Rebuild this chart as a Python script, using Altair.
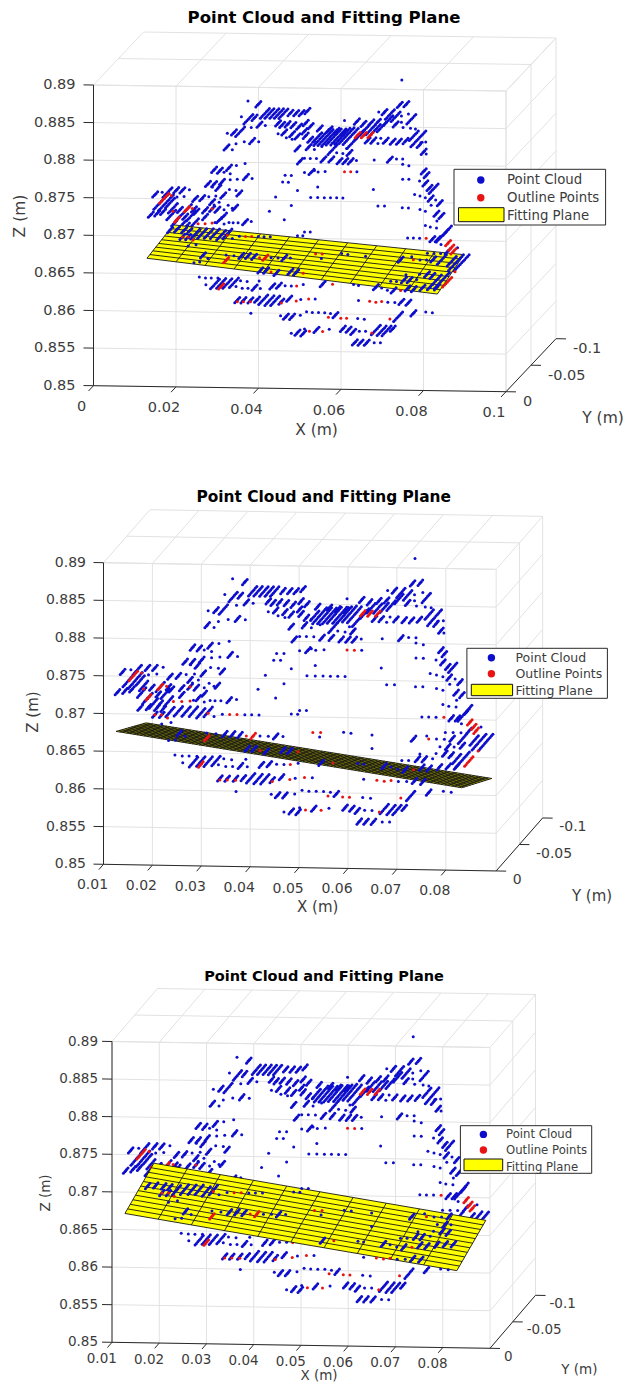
import altair as alt
import pandas as pd

alt.data_transformers.disable_max_rows()

# Point cloud, millimetres: (X, Z, streak size). A streak is a run of points along Y.
Y_SETS = {
    1: [-40],
    3: [-35, -38, -40, -42, -45],
    5: [-31, -34, -37, -40, -43, -46, -49],
    7: [-25, -28, -31, -34, -37, -40, -43, -46, -49, -52, -55],
}

cloud_upper_left = [
    (32.6,885.3,1),(35.1,884.9,3),(36.7,883.7,5),(37.8,883.7,5),(39.0,883.7,5),(40.1,883.7,5),(41.2,883.7,5),
    (42.9,883.8,3),(44.3,883.8,3),(45.6,883.8,3),(32.7,882.9,5),(34.2,883.1,3),(31.0,883.2,1),(35.4,882.2,3),
    (33.4,881.8,1),(36.8,882.1,1),(39.9,882.4,3),(40.9,882.2,3),(42.2,882.3,3),(43.6,882.2,3),(45.0,882.0,3),
    (39.9,881.0,1),(41.4,881.2,3),(43.3,881.0,3),(44.6,880.7,3),(43.3,880.3,1),(41.9,880.5,1),(27.6,881.0,1),
    (29.2,881.1,3),(30.7,881.2,5),(31.7,879.9,1),(33.6,880.0,3),(35.2,879.9,1),(29.7,879.6,1),(27.4,879.1,3),
    (28.8,878.8,1),(44.6,879.1,3),(45.2,877.4,3),(24.4,876.1,3),(25.8,876.0,3),(28.0,876.4,3),(29.8,876.7,1),
    (31.9,877.0,1),(28.3,875.6,1),(26.8,875.8,1),(28.3,874.8,1),(30.0,874.9,1),(32.1,875.2,3),(33.6,875.0,1),
    (41.6,875.5,1),(43.1,875.5,1),(41.0,874.6,1),(42.4,874.6,1),(44.6,873.5,1),(22.9,874.2,3),(24.4,874.2,3),
    (26.3,874.5,3),(24.0,873.8,1),(25.4,873.7,3),(28.1,873.5,1),(29.7,873.4,1),(30.5,873.0,3),(26.6,872.7,3),
    (39.3,872.6,1),(43.1,871.5,1),(37.8,870.7,1),(41.4,869.6,1),(10.1,872.7,3),(11.8,873.0,1),(13.1,873.0,5),
    (15.2,873.3,3),(16.7,873.3,3),(18.4,873.4,1),(11.6,871.8,7),(12.7,871.6,7),(13.7,871.6,5),(9.05,870.0,3),
    (10.6,870.2,3),(12.0,870.4,3),(15.4,872.4,1),(17.1,872.5,1),(19.8,872.2,3),(21.5,872.3,3),(23.1,872.5,1),
    (24.8,872.6,1),(23.9,871.8,3),(25.6,871.8,1),(14.4,870.9,5),(16.1,870.7,3),(17.8,870.8,5),(19.5,870.8,3),
    (22.2,870.7,3),(23.9,870.9,3),(25.2,870.8,3),(26.8,870.8,1),(27.8,871.4,1),(29.5,871.1,3),(28.8,871.0,1),
    (24.4,871.4,1),(14.0,870.0,5),(15.7,869.6,3),(17.4,869.8,3),(18.8,869.9,5),(20.1,870.5,3),(22.2,869.8,3),
    (26.8,870.0,3),(25.6,869.4,3),(24.6,869.1,1),(28.0,869.1,1),(29.0,869.1,1),(30.2,869.1,1),(31.9,869.2,3),
    (33.4,869.3,1),(26.8,868.9,1),
]

cloud_lower_left = [
    (13.7,868.0,3),(14.7,868.9,3),(16.4,868.6,5),(17.8,868.6,3),(19.5,868.9,5),(15.4,868.1,3),(17.1,868.0,3),
    (18.4,867.9,3),(19.8,867.5,5),(21.5,867.6,5),(23.1,867.6,5),(24.6,867.6,5),(26.1,867.4,5),(27.6,867.6,5),
    (16.7,867.1,3),(18.1,867.1,3),(20.0,866.1,1),(18.1,865.9,1),(28.8,867.0,1),(30.5,867.3,1),(35.1,867.3,1),
    (36.5,867.3,1),(38.0,867.3,1),(44.6,867.5,1),(45.9,867.5,1),(21.7,864.7,3),(22.9,864.3,1),(19.5,863.7,1),
    (20.9,863.8,1),(27.3,864.8,1),(29.2,864.7,1),(31.0,864.7,3),(32.6,864.7,3),(34.1,864.6,3),(38.2,864.5,1),
    (39.9,864.5,1),(41.4,864.5,3),(42.9,864.5,1),(35.6,862.8,3),(37.0,862.8,3),(39.5,862.5,3),(42.9,862.7,3),
    (44.3,862.6,3),(20.8,861.8,1),(22.3,861.7,1),(23.7,861.7,1),(25.3,861.7,1),(24.6,860.9,5),(26.1,861.0,5),
    (27.6,861.0,5),(29.2,861.1,5),(22.4,860.8,1),(30.8,861.4,1),(32.4,861.3,1),(35.3,861.4,1),(29.7,860.6,1),
    (31.2,860.4,1),(32.6,860.4,1),(34.2,860.5,3),(35.6,860.4,1),(38.5,860.7,3),(40.1,860.8,3),(41.6,860.8,1),
    (43.1,860.8,1),(46.0,861.0,1),(30.0,858.8,3),(31.5,858.8,3),(33.2,858.8,3),(34.8,858.9,3),(36.3,858.9,5),
    (37.8,858.8,5),(39.2,858.8,5),(40.7,858.7,3),(42.6,859.1,3),(45.4,859.0,1),(33.3,857.1,1),(40.5,856.8,1),
    (41.8,856.7,3),(43.3,856.7,3),(45.3,856.9,1),(43.1,854.5,1),(44.6,854.6,3),(46.0,854.5,3),
]

cloud_upper_right = [
    (69.9,888.4,1),(69.4,885.1,3),(71.0,885.2,3),(64.3,884.1,1),(65.7,884.1,3),(67.0,883.8,5),(68.4,883.5,5),
    (69.8,883.6,1),(72.2,883.2,5),(71.5,883.9,1),(66.6,883.0,5),(68.4,882.5,3),(69.8,882.8,1),(70.2,882.1,1),
    (72.0,882.0,1),(73.2,881.9,1),(56.0,882.9,1),(59.0,882.8,3),(60.6,882.5,3),(62.5,882.7,3),(64.1,882.8,3),
    (65.0,882.1,5),(63.6,881.8,5),(62.3,881.7,5),(60.9,881.7,5),(46.6,882.5,3),(47.8,882.1,3),(50.0,881.8,3),
    (52.4,881.7,3),(54.1,881.5,3),(55.8,881.4,3),(46.3,881.4,3),(49.4,880.6,5),(50.4,880.6,7),(51.4,880.6,7),
    (52.4,880.6,7),(53.4,880.7,7),(54.5,880.7,7),(55.5,880.8,7),(56.5,880.9,7),(57.5,880.8,7),(58.5,880.3,7),
    (59.6,881.0,5),(47.0,884.1,3),(46.6,880.8,3),(47.7,880.3,3),(64.1,879.9,1),(63.0,880.3,3),(61.6,880.3,3),
    (66.0,880.3,3),(67.7,880.2,3),(69.2,880.2,3),(70.8,880.3,3),(72.8,881.0,5),(73.9,880.6,7),(74.5,880.1,1),
    (75.7,880.2,1),(74.2,879.8,3),(75.2,878.9,3),(75.8,878.6,1),(64.8,880.6,1),(54.1,878.6,1),(55.6,878.5,1),
    (57.2,878.6,3),(48.7,880.1,1),(50.5,879.4,1),(48.7,879.0,1),(47.3,879.3,3),(53.1,879.0,5),(56.5,879.2,1),
    (46.3,877.8,1),(47.7,877.8,1),(49.2,877.8,1),(50.9,877.7,3),(52.8,877.7,3),(54.8,877.5,3),(56.2,877.5,3),
    (57.5,877.5,3),(58.9,877.6,1),(63.2,877.7,1),(67.0,877.8,3),(68.6,877.9,1),(70.1,877.9,1),(70.1,877.2,1),
    (71.6,877.0,1),(46.3,875.9,1),(48.0,876.0,3),(48.7,876.2,1),(49.6,876.0,1),(51.3,876.1,1),(59.0,876.1,1),
    (75.2,876.3,3),(75.9,875.8,3),(70.1,875.2,1),(71.6,875.2,1),(74.2,875.0,1),(75.6,874.7,3),(76.6,874.1,3),
    (77.6,874.0,5),(49.5,874.0,1),(63.0,873.8,1),(73.0,873.2,1),(74.3,873.0,1),(75.6,872.8,1),(76.9,872.7,3),
    (78.1,872.5,1),(79.1,872.1,3),(77.0,871.8,1),(47.8,872.6,1),(49.5,872.6,1),(51.1,872.6,1),(52.6,872.6,1),
    (54.1,872.6,1),(55.6,872.6,1),(64.1,871.6,1),(65.7,871.6,1),(70.0,871.4,1),(71.5,871.4,1),(74.3,871.2,1),
    (75.6,871.0,1),(78.3,870.7,3),(79.5,870.4,3),(78.4,869.7,1),(75.6,869.1,1),(76.8,868.9,1),(78.3,868.8,1),
    (80.5,868.2,3),
]

cloud_lower_right = [
    (46.3,868.0,1),(47.7,868.0,1),(71.3,867.4,1),(72.7,867.4,1),(74.2,867.4,1),(77.3,867.3,3),(78.6,867.3,3),
    (80.1,868.0,7),(83.4,866.2,1),(81.0,865.7,3),(79.4,866.6,1),(82.0,864.4,5),(83.0,864.2,7),(84.4,864.2,7),
    (79.6,864.6,5),(79.6,863.7,3),(76.1,865.4,1),(77.7,865.4,1),(79.3,865.4,1),(74.3,864.5,1),(75.9,864.5,1),
    (77.5,864.6,3),(72.3,864.9,1),(69.6,864.5,3),(75.0,863.5,1),(76.6,863.5,3),(76.0,862.6,3),(74.2,862.6,1),
    (70.9,862.5,1),(77.9,863.5,1),(77.3,862.4,3),(78.4,861.9,5),(79.6,861.8,7),(78.4,860.9,3),(67.2,861.6,1),
    (68.6,861.6,1),(70.4,861.8,3),(71.8,861.8,3),(73.5,861.9,1),(50.4,864.5,1),(55.3,865.2,1),(56.8,865.1,1),
    (61.1,864.9,1),(61.1,863.1,1),(50.7,861.1,3),(58.2,861.1,1),(59.4,861.0,1),(63.6,860.8,3),(65.0,860.7,1),
    (66.4,860.4,1),(67.9,860.4,3),(71.3,860.7,3),(72.8,860.6,3),(74.9,860.8,3),(76.7,860.9,3),(48.9,859.1,1),
    (59.4,859.0,1),(66.5,858.8,1),(68.2,858.8,1),(69.8,858.9,3),(71.5,858.8,3),(72.7,857.4,3),(75.7,857.6,1),
    (77.3,857.5,1),(46.8,857.4,1),(48.2,857.3,1),(49.7,857.3,1),(51.2,857.3,1),(52.6,857.2,1),(53.8,857.0,3),
    (59.2,856.6,1),(60.8,856.5,1),(69.0,856.9,5),(46.3,855.1,1),(49.2,855.0,3),(52.3,855.1,1),(55.6,855.2,3),
    (57.0,855.1,3),(58.1,854.8,3),(59.6,854.9,1),(61.1,854.9,1),(63.6,855.1,5),(65.0,855.0,5),(66.2,855.0,5),
    (67.7,855.3,3),(58.5,853.4,3),(59.9,853.4,3),(61.4,853.4,3),(63.2,853.4,1),(64.7,853.4,1),
]

outline_points = [
    (12.3,872.2,5),(14.0,872.6,1),(17.8,870.8,3),(19.1,870.9,1),(23.9,870.9,1),(15.4,869.4,3),(14.4,870.5,1),
    (20.5,868.9,1),(22.2,868.9,1),(23.9,869.0,1),(27.6,867.4,1),(16.7,867.1,1),(18.1,867.1,1),(19.3,866.7,1),
    (32.0,867.3,1),(33.5,867.3,1),(27.3,864.1,3),(35.4,864.5,1),(36.8,864.5,3),(38.2,862.6,1),(46.0,862.5,1),
    (44.4,860.8,1),(26.1,860.6,3),(30.0,858.6,1),(31.5,858.6,1),(33.2,858.6,1),(40.7,858.5,1),(44.3,858.8,1),
    (59.2,881.0,3),(60.7,881.0,3),(62.3,881.0,3),(56.0,876.1,1),(57.5,876.1,1),(75.8,867.4,1),(81.1,866.8,3),
    (81.9,866.2,3),(82.4,865.7,3),(82.8,863.0,1),(72.7,864.5,1),(80.9,861.6,5),(49.0,865.1,1),(50.6,865.1,1),
    (53.1,861.1,1),(69.6,860.4,1),(47.3,859.1,1),(62.1,858.9,1),(63.6,858.8,1),(65.0,858.9,1),(52.1,856.7,1),
    (55.1,856.6,1),(56.5,856.6,1),(67.0,856.6,1),(47.5,854.8,1),(50.7,854.8,1),(62.6,854.7,1),
]

z_ticks = [850, 855, 860, 865, 870, 875, 880, 885, 890]
z_labels = ["0.85", "0.855", "0.86", "0.865", "0.87", "0.875", "0.88", "0.885", "0.89"]
y_ticks = [0, -50, -100]
y_labels = ["0", "-0.05", "-0.1"]

# hidden = (Xmin, Xmax, Zmin, Zmax) boxes of points the fitting plane covers in that view
panels = [
    dict(top=8, bottom=470, xmin=0, xmax=100, x0=93.5, xs=4.125, ux=0.5, y0=385.7, yx=0.06, uy=0.53, zs=7.517,
         x_ticks=[0, 20, 40, 60, 80, 100], x_labels=["0", "0.02", "0.04", "0.06", "0.08", "0.1"],
         plane_x=[11.5, 81.9], plane_y=[-12, -65], plane_z=[866.2, 862.0, 866.9, 863.5], cols=10, rows=9,
         hidden=[(16, 40, 868.3, 870.6), (30, 80, 862.9, 864.0)],
         title=(324, 18, 16.5), tick_font=14.5, label_font=15.5, zlab=75.5, xlab=(-12, 21.5), ylab=(17, 10.5),
         xt=(316.5, 430), zt=(20, 216), yt=(603, 418),
         legend=dict(box=(454, 169.3, 605.6, 225), dotx=480.8, rows=(180, 197.7, 216), text=507,
                     rect=(458.5, 207.7, 504, 221.7), font=13.3)),
    dict(top=470, bottom=932, xmin=10, xmax=90.3, x0=103.5, xs=4.89, ux=0.465, y0=864.3, yx=0.083, uy=0.53, zs=7.54,
         x_ticks=[10, 20, 30, 40, 50, 60, 70, 80],
         x_labels=["0.01", "0.02", "0.03", "0.04", "0.05", "0.06", "0.07", "0.08"],
         plane_x=[12.1, 82.8], plane_y=[-5, -69.5], plane_z=[867.3, 860.6, 863.9, 857.3], cols=100, rows=10,
         hidden=[],
         title=(323.7, 496.7, 15.4), tick_font=14, label_font=15, zlab=86, xlab=(-11, 21), ylab=(16.5, 9.5),
         xt=(317.7, 907), zt=(33, 712), yt=(592, 895.7),
         legend=dict(box=(466.9, 648.3, 607.4, 698.3), dotx=491.4, rows=(657.7, 673.7, 691), text=515.5,
                     rect=(471.3, 684.3, 512.6, 695.7), font=12.5)),
    dict(top=932, bottom=1381, xmin=10, xmax=90, x0=112, xs=4.725, ux=0.455, y0=1342.3, yx=0.075, uy=0.53, zs=7.52,
         x_ticks=[10, 20, 30, 40, 50, 60, 70, 80],
         x_labels=["0.01", "0.02", "0.03", "0.04", "0.05", "0.06", "0.07", "0.08"],
         plane_x=[12.26, 82.5], plane_y=[-5, -68.7], plane_z=[866.8, 859.9, 869.0, 862.1], cols=10, rows=11,
         hidden=[(14, 40, 868.2, 871.2), (30, 50, 860, 863.5), (78, 90, 861.5, 866)],
         title=(324, 977.3, 14.5), tick_font=13.5, label_font=13.5, zlab=98, xlab=(-10.2, 16.5), ylab=(14, 8.5),
         xt=(319, 1376), zt=(46, 1193), yt=(579.4, 1370),
         legend=dict(box=(460.4, 1125.7, 591.7, 1173.3), dotx=483.4, rows=(1134.4, 1150, 1166.5), text=506,
                     rect=(464, 1159, 502.7, 1170.7), font=11.7)),
]

BLUE, RED, YELLOW = "#0d0dcc", "#e81414", "#ffff00"
GRID, AXIS = "#e2e2e2", "#2a2a2a"
TEXT = "#3c3c3c"
FONT = "DejaVu Sans"
PAGE_X = (8, 624)


def project(p, X, Y, Z):
    u = -Y
    return (p["x0"] + (X - p["xmin"]) * p["xs"] + u * p["ux"],
            p["y0"] + (X - p["xmin"]) * p["yx"] - u * p["uy"] - (Z - 850) * p["zs"])


def segments(p, items):
    rows = []
    for i, (a, b) in enumerate(items):
        for k, q in enumerate((a, b)):
            sx, sy = project(p, *q)
            rows.append(dict(seg=i, k=k, x=sx, y=sy))
    return pd.DataFrame(rows)


def expand(p, entries):
    rows = []
    for X, Z, n in entries:
        for Y in Y_SETS[n]:
            sx, sy = project(p, X, Y, Z)
            rows.append(dict(x=sx, y=sy))
    return pd.DataFrame(rows, columns=["x", "y"])


def split(p, entries):
    def covered(e):
        return any(a <= e[0] <= b and c <= e[1] <= d for a, b, c, d in p["hidden"])
    return [e for e in entries if covered(e)], [e for e in entries if not covered(e)]


def panel(p):
    xsc = alt.Scale(domain=list(PAGE_X), nice=False, zero=False)
    ysc = alt.Scale(domain=[p["bottom"], p["top"]], nice=False, zero=False)
    X = alt.X("x:Q", scale=xsc, axis=None)
    Y = alt.Y("y:Q", scale=ysc, axis=None)
    x0, x1 = p["xmin"], p["xmax"]
    d = 10 / p["xs"]

    grid = []
    for t in p["x_ticks"]:
        grid.append(((t, 0, 850), (t, 0, 890)))
        grid.append(((t, 0, 890), (t, -100, 890)))
    for z in z_ticks:
        grid.append(((x0, 0, z), (x1, 0, z)))
        grid.append(((x1, 0, z), (x1, -100, z)))
    for y in y_ticks:
        grid.append(((x0, y, 890), (x1, y, 890)))
        grid.append(((x1, y, 850), (x1, y, 890)))

    axes = [((x0, 0, 850), (x0, 0, 890)), ((x0, 0, 850), (x1, 0, 850)), ((x1, 0, 850), (x1, -100, 850))]
    axes += [((t, 0, 850), (t, 10, 850)) for t in p["x_ticks"]]
    axes += [((x0, 0, z), (x0 - d, 0, z)) for z in z_ticks]
    axes += [((x1, y, 850), (x1 + d, y, 850)) for y in y_ticks]

    layers = [
        alt.Chart(segments(p, grid)).mark_line(color=GRID, strokeWidth=1).encode(X, Y, detail="seg:N", order="k:Q"),
    ]

    all_blue = cloud_upper_left + cloud_lower_left + cloud_upper_right + cloud_lower_right
    blue_under, blue_over = split(p, all_blue)
    red_under, red_over = split(p, outline_points)
    if blue_under:
        layers.append(alt.Chart(expand(p, blue_under)).mark_circle(color=BLUE, size=9, opacity=1).encode(X, Y))
    if red_under:
        layers.append(alt.Chart(expand(p, red_under)).mark_circle(color=RED, size=9, opacity=1).encode(X, Y))

    # fitting plane: corners A (near left), D (near right), B (far left), C (far right)
    (xa, xd), (ya, yb) = p["plane_x"], p["plane_y"]
    za, zd, zb, zc = p["plane_z"]
    A = project(p, xa, ya, za)
    D = project(p, xd, ya, zd)
    B = project(p, xa, yb, zb)
    C = project(p, xd, yb, zc)

    def lerp(P, Q, sx):
        return P[1] + (Q[1] - P[1]) * (sx - P[0]) / (Q[0] - P[0])

    quad = pd.DataFrame([
        dict(x=A[0], ytop=A[1], ybot=A[1]),
        dict(x=B[0], ytop=B[1], ybot=lerp(A, D, B[0])),
        dict(x=D[0], ytop=lerp(B, C, D[0]), ybot=D[1]),
        dict(x=C[0], ytop=C[1], ybot=C[1]),
    ])
    layers.append(alt.Chart(quad).mark_area(fill=YELLOW, opacity=1, orient="vertical").encode(
        X, alt.Y("ytop:Q", scale=ysc, axis=None), y2="ybot:Q"))

    mesh = []
    nc, nr = p["cols"], p["rows"]

    def corner(s, t):
        X_ = xa + (xd - xa) * s
        Y_ = ya + (yb - ya) * t
        Z_ = za * (1 - s) * (1 - t) + zd * s * (1 - t) + zb * (1 - s) * t + zc * s * t
        return (X_, Y_, Z_)

    for i in range(nc + 1):
        mesh.append((corner(i / nc, 0), corner(i / nc, 1)))
    for j in range(nr + 1):
        mesh.append((corner(0, j / nr), corner(1, j / nr)))
    layers.append(alt.Chart(segments(p, mesh)).mark_line(color="#151515", strokeWidth=0.9).encode(
        X, Y, detail="seg:N", order="k:Q"))

    layers.append(alt.Chart(expand(p, blue_over)).mark_circle(color=BLUE, size=9, opacity=1).encode(X, Y))
    layers.append(alt.Chart(expand(p, red_over)).mark_circle(color=RED, size=9, opacity=1).encode(X, Y))
    layers.append(alt.Chart(segments(p, axes)).mark_line(color=AXIS, strokeWidth=1).encode(
        X, Y, detail="seg:N", order="k:Q"))

    def text(df, size, align="center", color=TEXT, weight="normal", angle=0):
        return alt.Chart(pd.DataFrame(df)).mark_text(
            font=FONT, fontSize=size, align=align, baseline="middle", color=color, fontWeight=weight, angle=angle
        ).encode(X, Y, text="t:N")

    tf = p["tick_font"]
    zrows = [dict(x=p["zlab"], y=project(p, x0, 0, z)[1], t=l) for z, l in zip(z_ticks, z_labels)]
    layers.append(text(zrows, tf, "right"))
    xrows = []
    for t, l in zip(p["x_ticks"], p["x_labels"]):
        sx, sy = project(p, t, 0, 850)
        xrows.append(dict(x=sx + p["xlab"][0], y=sy + p["xlab"][1], t=l))
    layers.append(text(xrows, tf))
    yrows = []
    for t, l in zip(y_ticks, y_labels):
        sx, sy = project(p, x1, t, 850)
        yrows.append(dict(x=sx + p["ylab"][0], y=sy + p["ylab"][1], t=l))
    layers.append(text(yrows, tf, "left"))

    lf = p["label_font"]
    layers.append(text([dict(x=p["xt"][0], y=p["xt"][1], t="X (m)"), dict(x=p["yt"][0], y=p["yt"][1], t="Y (m)")], lf))
    layers.append(text([dict(x=p["zt"][0], y=p["zt"][1], t="Z (m)")], lf, angle=270))
    layers.append(text([dict(x=p["title"][0], y=p["title"][1], t="Point Cloud and Fitting Plane")],
                       p["title"][2], color="#000000", weight="bold"))

    lg = p["legend"]
    b = lg["box"]
    layers.append(alt.Chart(pd.DataFrame([dict(x=b[0], y=b[1], x2=b[2], y2=b[3])])).mark_rect(
        fill="#ffffff", stroke=AXIS, strokeWidth=1).encode(X, Y, x2="x2:Q", y2="y2:Q"))
    r = lg["rect"]
    layers.append(alt.Chart(pd.DataFrame([dict(x=r[0], y=r[1], x2=r[2], y2=r[3])])).mark_rect(
        fill=YELLOW, stroke="#111111", strokeWidth=1).encode(X, Y, x2="x2:Q", y2="y2:Q"))
    layers.append(alt.Chart(pd.DataFrame([dict(x=lg["dotx"], y=lg["rows"][0])])).mark_circle(
        color=BLUE, size=55, opacity=1).encode(X, Y))
    layers.append(alt.Chart(pd.DataFrame([dict(x=lg["dotx"], y=lg["rows"][1])])).mark_circle(
        color=RED, size=55, opacity=1).encode(X, Y))
    names = ["Point Cloud", "Outline Points", "Fitting Plane"]
    layers.append(text([dict(x=lg["text"], y=yy, t=n) for yy, n in zip(lg["rows"], names)], lg["font"], "left"))

    return alt.layer(*layers).properties(width=PAGE_X[1] - PAGE_X[0], height=p["bottom"] - p["top"])


chart = alt.vconcat(*[panel(p) for p in panels], spacing=0).properties(
    padding=0, background="#ffffff"
).configure_view(stroke=None)

chart.save("out.html", embed_options={"renderer": "svg", "actions": False})
